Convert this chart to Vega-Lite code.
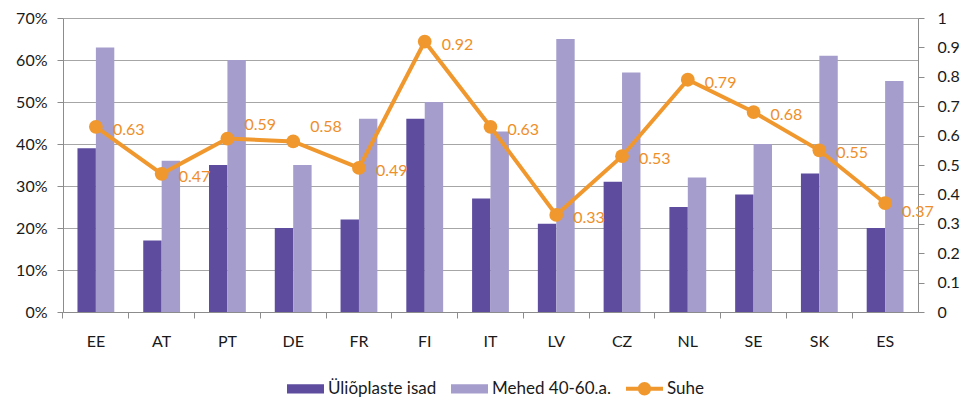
{
  "$schema": "https://vega.github.io/schema/vega-lite/v6.json",
  "width": 855,
  "height": 294,
  "autosize": "none",
  "padding": {"left": 63, "top": 18, "right": 45, "bottom": 88},
  "background": "white",
  "config": {
    "font": "Lato",
    "view": {"stroke": null},
    "axis": {"labelFont": "Lato", "labelFontSize": 16, "labelColor": "#1a1a1a", "domainColor": "#8c8c8c", "tickColor": "#8c8c8c", "gridColor": "#a6a6a6", "tickSize": 6, "title": null},
    "legend": {"labelFont": "Lato", "labelFontSize": 17, "labelColor": "#1a1a1a"}
  },
  "data": {
    "values": [
      {"country": "EE", "series": "Üliõplaste isad", "value": 0.39},
      {"country": "EE", "series": "Mehed 40-60.a.", "value": 0.63},
      {"country": "EE", "series": "Suhe", "value": 0.63},
      {"country": "AT", "series": "Üliõplaste isad", "value": 0.17},
      {"country": "AT", "series": "Mehed 40-60.a.", "value": 0.36},
      {"country": "AT", "series": "Suhe", "value": 0.47},
      {"country": "PT", "series": "Üliõplaste isad", "value": 0.35},
      {"country": "PT", "series": "Mehed 40-60.a.", "value": 0.60},
      {"country": "PT", "series": "Suhe", "value": 0.59},
      {"country": "DE", "series": "Üliõplaste isad", "value": 0.20},
      {"country": "DE", "series": "Mehed 40-60.a.", "value": 0.35},
      {"country": "DE", "series": "Suhe", "value": 0.58},
      {"country": "FR", "series": "Üliõplaste isad", "value": 0.22},
      {"country": "FR", "series": "Mehed 40-60.a.", "value": 0.46},
      {"country": "FR", "series": "Suhe", "value": 0.49},
      {"country": "FI", "series": "Üliõplaste isad", "value": 0.46},
      {"country": "FI", "series": "Mehed 40-60.a.", "value": 0.50},
      {"country": "FI", "series": "Suhe", "value": 0.92},
      {"country": "IT", "series": "Üliõplaste isad", "value": 0.27},
      {"country": "IT", "series": "Mehed 40-60.a.", "value": 0.43},
      {"country": "IT", "series": "Suhe", "value": 0.63},
      {"country": "LV", "series": "Üliõplaste isad", "value": 0.21},
      {"country": "LV", "series": "Mehed 40-60.a.", "value": 0.65},
      {"country": "LV", "series": "Suhe", "value": 0.33},
      {"country": "CZ", "series": "Üliõplaste isad", "value": 0.31},
      {"country": "CZ", "series": "Mehed 40-60.a.", "value": 0.57},
      {"country": "CZ", "series": "Suhe", "value": 0.53},
      {"country": "NL", "series": "Üliõplaste isad", "value": 0.25},
      {"country": "NL", "series": "Mehed 40-60.a.", "value": 0.32},
      {"country": "NL", "series": "Suhe", "value": 0.79},
      {"country": "SE", "series": "Üliõplaste isad", "value": 0.28},
      {"country": "SE", "series": "Mehed 40-60.a.", "value": 0.40},
      {"country": "SE", "series": "Suhe", "value": 0.68},
      {"country": "SK", "series": "Üliõplaste isad", "value": 0.33},
      {"country": "SK", "series": "Mehed 40-60.a.", "value": 0.61},
      {"country": "SK", "series": "Suhe", "value": 0.55},
      {"country": "ES", "series": "Üliõplaste isad", "value": 0.20},
      {"country": "ES", "series": "Mehed 40-60.a.", "value": 0.55},
      {"country": "ES", "series": "Suhe", "value": 0.37}
    ]
  },
  "encoding": {
    "x": {
      "field": "country",
      "type": "nominal",
      "sort": ["EE", "AT", "PT", "DE", "FR", "FI", "IT", "LV", "CZ", "NL", "SE", "SK", "ES"],
      "scale": {"paddingInner": 0.44, "paddingOuter": 0.22},
      "axis": {"labelAngle": 0, "bandPosition": -0.393, "labelPadding": 15, "grid": false}
    }
  },
  "layer": [
    {
      "transform": [{"filter": "datum.series !== 'Suhe'"}],
      "mark": {"type": "bar"},
      "encoding": {
        "xOffset": {"field": "series", "type": "nominal", "sort": ["Üliõplaste isad", "Mehed 40-60.a."], "scale": {"paddingInner": 0, "paddingOuter": 0}},
        "y": {
          "field": "value",
          "type": "quantitative",
          "scale": {"domain": [0, 0.7], "nice": false},
          "axis": {"orient": "left", "format": ".0%", "values": [0, 0.1, 0.2, 0.3, 0.4, 0.5, 0.6, 0.7], "grid": true, "labelPadding": 10}
        },
        "color": {
          "field": "series",
          "type": "nominal",
          "scale": {"domain": ["Üliõplaste isad", "Mehed 40-60.a.", "Suhe"], "range": ["#5e4c9f", "#a59ecc", "#f0982e"]},
          "legend": {
            "title": null,
            "orient": "none",
            "legendX": 224,
            "legendY": 352,
            "direction": "horizontal",
            "columns": 3,
            "symbolSize": 1369,
            "symbolOpacity": 1,
            "labelOffset": 4,
            "columnPadding": 14,
            "encode": {
              "symbols": {
                "update": {
                  "shape": {"signal": "datum.label === 'Suhe' ? 'M-1,-0.11H1V0.11H-1Z M0.36,0A0.36,0.36 0 1,1 -0.36,0A0.36,0.36 0 1,1 0.36,0Z' : 'M-1,-0.25H1V0.25H-1Z'"},
                  "fill": {"scale": "color", "field": "value"},
                  "strokeWidth": {"value": 0},
                  "opacity": {"value": 1}
                }
              }
            }
          }
        }
      }
    },
    {
      "transform": [{"filter": "datum.series === 'Suhe'"}],
      "encoding": {
        "y": {
          "field": "value",
          "type": "quantitative",
          "scale": {"domain": [0, 1], "nice": false},
          "axis": {"orient": "right", "format": "~g", "values": [0, 0.1, 0.2, 0.3, 0.4, 0.5, 0.6, 0.7, 0.8, 0.9, 1], "grid": false, "labelPadding": 13}
        }
      },
      "layer": [
        {
          "mark": {"type": "line", "strokeWidth": 4, "point": {"filled": true, "size": 190, "opacity": 1}},
          "encoding": {
            "color": {"field": "series", "type": "nominal"}
          }
        },
        {
          "transform": [{"filter": "indexof(['PT','DE','ES'], datum.country) < 0"}],
          "mark": {"type": "text", "align": "left", "baseline": "middle", "dx": 17, "dy": 3, "fontSize": 16, "color": "#ee8f2a"},
          "encoding": {"text": {"field": "value", "type": "quantitative", "format": ".2f"}}
        },
        {
          "transform": [{"filter": "indexof(['PT','DE'], datum.country) >= 0"}],
          "mark": {"type": "text", "align": "left", "baseline": "middle", "dx": 17, "dy": -14, "fontSize": 16, "color": "#ee8f2a"},
          "encoding": {"text": {"field": "value", "type": "quantitative", "format": ".2f"}}
        },
        {
          "transform": [{"filter": "datum.country === 'ES'"}],
          "mark": {"type": "text", "align": "left", "baseline": "middle", "dx": 17, "dy": 9, "fontSize": 16, "color": "#ee8f2a"},
          "encoding": {"text": {"field": "value", "type": "quantitative", "format": ".2f"}}
        }
      ]
    }
  ],
  "resolve": {"scale": {"y": "independent"}}
}
